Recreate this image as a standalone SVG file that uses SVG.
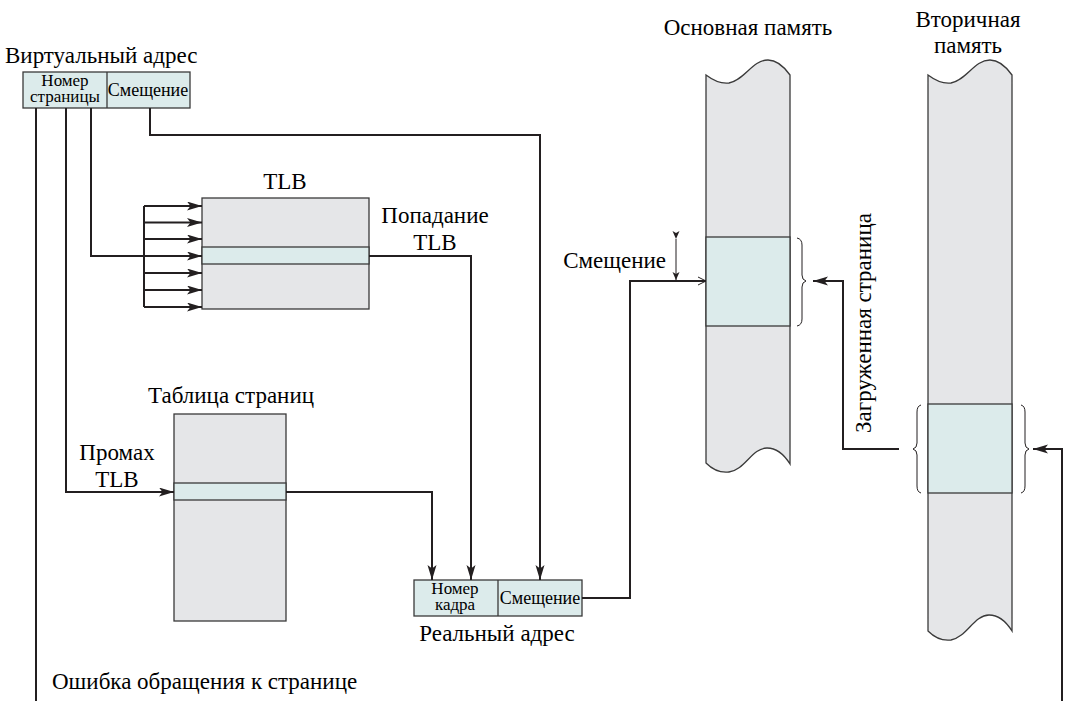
<svg xmlns="http://www.w3.org/2000/svg" width="1067" height="701" viewBox="0 0 1067 701" font-family="Liberation Serif">
<defs>
<marker id="ah" markerUnits="userSpaceOnUse" markerWidth="16" markerHeight="10" refX="15" refY="4.5" orient="auto">
<path d="M0,0 L15,4.5 L0,9 L3.5,4.5 Z" fill="#231f20"/>
</marker>
<marker id="sa" markerUnits="userSpaceOnUse" markerWidth="10" markerHeight="8" refX="8" refY="4" orient="auto">
<path d="M0,0.5 L8,4 L0,7.5 L2,4 Z" fill="#231f20"/>
</marker>
<marker id="oa" markerUnits="userSpaceOnUse" markerWidth="12" markerHeight="10" refX="9" refY="5" orient="auto">
<path d="M1,1 L9,5 L1,9" fill="none" stroke="#231f20" stroke-width="1"/>
</marker>
</defs>

<g id="virtual-address">
<rect fill="#dcebeb" stroke="#3a3a3a" stroke-width="1.3" x="23" y="72" width="167" height="36"/>
<line x1="107" y1="72" x2="107" y2="108" stroke="#3a3a3a" stroke-width="1.3"/>
<text font-family="Liberation Serif" font-size="23" x="5" y="63">Виртуальный адрес</text>
<text font-family="Liberation Serif" font-size="17" text-anchor="middle" x="65" y="86">Номер</text>
<text font-family="Liberation Serif" font-size="17" text-anchor="middle" x="65" y="102">страницы</text>
<text font-family="Liberation Serif" font-size="18" text-anchor="middle" x="148" y="96">Смещение</text>
</g>

<g id="tlb">
<rect fill="#e5e6e8" stroke="#3a3a3a" stroke-width="1.3" x="202" y="198" width="167" height="111"/>
<rect fill="#dcebeb" stroke="#3a3a3a" stroke-width="1.3" x="202" y="247" width="167" height="17"/>
<text font-family="Liberation Serif" font-size="23" text-anchor="middle" x="285" y="189">TLB</text>
</g>

<g id="page-table">
<rect fill="#e5e6e8" stroke="#3a3a3a" stroke-width="1.3" x="174" y="414" width="112" height="207"/>
<rect fill="#dcebeb" stroke="#3a3a3a" stroke-width="1.3" x="174" y="483" width="112" height="17"/>
<text font-family="Liberation Serif" font-size="23" text-anchor="middle" x="231" y="403">Таблица страниц</text>
</g>

<g id="real-address">
<rect fill="#dcebeb" stroke="#3a3a3a" stroke-width="1.3" x="414" y="580" width="168" height="36"/>
<line x1="498" y1="580" x2="498" y2="616" stroke="#3a3a3a" stroke-width="1.3"/>
<text font-family="Liberation Serif" font-size="17" text-anchor="middle" x="455" y="594">Номер</text>
<text font-family="Liberation Serif" font-size="17" text-anchor="middle" x="455" y="610">кадра</text>
<text font-family="Liberation Serif" font-size="18" text-anchor="middle" x="540" y="604">Смещение</text>
<text font-family="Liberation Serif" font-size="23" text-anchor="middle" x="497" y="641">Реальный адрес</text>
</g>

<g id="main-memory">
<path fill="#e5e6e8" stroke="#3a3a3a" stroke-width="1.3" d="M706,75 C714,81 721,84 729,83 C745,80 752,60 768,60 C778,60 785,68 790,75 L790,464 C785,456 778,448 767,448 C752,448 745,470 729,472 C721,473 713,470 706,463 Z"/>
<rect fill="#dcebeb" stroke="#3a3a3a" stroke-width="1.3" x="706" y="237" width="84" height="89"/>
<path fill="none" stroke="#231f20" stroke-width="1" d="M797,238 Q802,239 802,245 L802,275 Q802,280 806,281 Q802,282 802,287 L802,319 Q802,325 797,326"/>
<text font-family="Liberation Serif" font-size="23" text-anchor="middle" x="748" y="35">Основная память</text>
</g>

<g id="secondary-memory">
<path fill="#e5e6e8" stroke="#3a3a3a" stroke-width="1.3" d="M928,75 C936,81 943,84 951,83 C967,80 974,60 990,60 C1000,60 1007,68 1012,75 L1012,631 C1007,623 1000,615 989,615 C974,615 967,637 951,640 C943,641 935,638 928,631 Z"/>
<rect fill="#dcebeb" stroke="#3a3a3a" stroke-width="1.3" x="928" y="404" width="84" height="89"/>
<path fill="none" stroke="#231f20" stroke-width="1" d="M921,405 Q917,406 917,412 L917,443 Q917,448 913,449 Q917,450 917,455 L917,486 Q917,492 921,493"/>
<path fill="none" stroke="#231f20" stroke-width="1" d="M1021,405 Q1025,406 1025,412 L1025,443 Q1025,448 1029,449 Q1025,450 1025,455 L1025,486 Q1025,492 1021,493"/>
<text font-family="Liberation Serif" font-size="23" text-anchor="middle" x="968" y="27">Вторичная</text>
<text font-family="Liberation Serif" font-size="23" text-anchor="middle" x="968" y="53">память</text>
</g>

<g id="labels">
<text font-family="Liberation Serif" font-size="23" text-anchor="middle" x="435" y="223">Попадание</text>
<text font-family="Liberation Serif" font-size="23" text-anchor="middle" x="435" y="250">TLB</text>
<text font-family="Liberation Serif" font-size="23" text-anchor="middle" x="117" y="460">Промах</text>
<text font-family="Liberation Serif" font-size="23" text-anchor="middle" x="117" y="487">TLB</text>
<text font-family="Liberation Serif" font-size="23" text-anchor="end" x="666" y="268">Смещение</text>
<text font-family="Liberation Serif" font-size="23" text-anchor="middle" transform="translate(871,323) rotate(-90)">Загруженная страница</text>
<text font-family="Liberation Serif" font-size="23" x="52" y="689">Ошибка обращения к странице</text>
</g>

<g id="connectors" fill="none" stroke="#231f20" stroke-width="2">
<path d="M36,108 L36,701"/>
<path d="M66,108 L66,492 L174,492" marker-end="url(#ah)"/>
<path d="M91,108 L91,256 L202,256" marker-end="url(#ah)"/>
<path d="M150,108 L150,135 L540,135 L540,580" marker-end="url(#ah)"/>
<path d="M144,206 L144,307"/>
<path d="M144,206 L202,206" marker-end="url(#ah)"/>
<path d="M144,222.5 L202,222.5" marker-end="url(#ah)"/>
<path d="M144,239 L202,239" marker-end="url(#ah)"/>
<path d="M144,273 L202,273" marker-end="url(#ah)"/>
<path d="M144,290 L202,290" marker-end="url(#ah)"/>
<path d="M144,307 L202,307" marker-end="url(#ah)"/>
<path d="M369,256 L471,256 L471,580" marker-end="url(#ah)"/>
<path d="M286,492 L432,492 L432,580" marker-end="url(#ah)"/>
<path d="M582,598 L630,598 L630,281 L706,281" marker-end="url(#oa)"/>
<path stroke-width="1" d="M676,239 L676,280" marker-start="url(#sa)" marker-end="url(#sa)"/>
<path d="M899,449 L843,449 L843,281 L813,281" marker-end="url(#ah)"/>
<path d="M1062,701 L1062,449 L1033,449" marker-end="url(#ah)"/>
</g>
</svg>
